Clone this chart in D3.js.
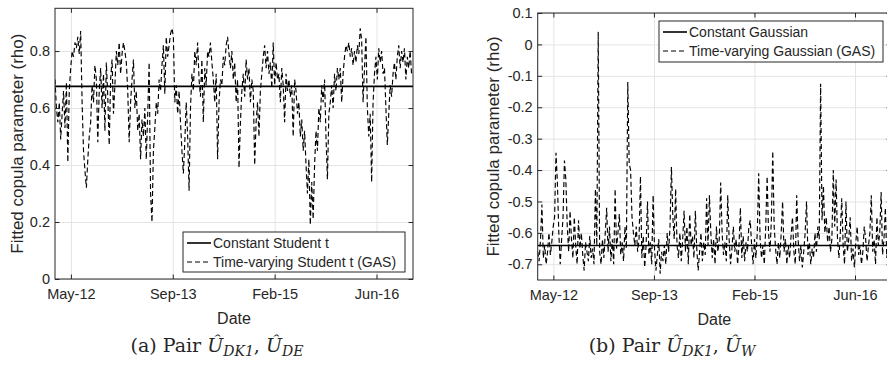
<!DOCTYPE html>
<html>
<head>
<meta charset="utf-8">
<script src="https://cdn.jsdelivr.net/npm/d3@7"></script>
<style>
  body { margin: 0; background: #fff; }
  svg { display: block; }
  text { font-family: "Liberation Sans", Arial, sans-serif; fill: #262626; }
</style>
</head>
<body>
<svg id="chart" width="887" height="367"></svg>
<script>
// weekly observations starting 27 Feb 2012
const startDate = Date.UTC(2012, 1, 27);
const endDate = Date.UTC(2016, 11, 19);

const xTickDates = [Date.UTC(2012, 4, 15), Date.UTC(2013, 8, 27), Date.UTC(2015, 1, 9), Date.UTC(2016, 5, 23)];
const xTickLabels = ["May-12", "Sep-13", "Feb-15", "Jun-16"];

const yTicksA = [0, 0.2, 0.4, 0.6, 0.8];
const yTickLabelsA = ["0", "0.2", "0.4", "0.6", "0.8"];
const yTicksB = [-0.7, -0.6, -0.5, -0.4, -0.3, -0.2, -0.1, 0, 0.1];
const yTickLabelsB = ["-0.7", "-0.6", "-0.5", "-0.4", "-0.3", "-0.2", "-0.1", "0", "0.1"];

const seriesNamesA = ["Constant Student t", "Time-varying Student t (GAS)"];
const seriesNamesB = ["Constant Gaussian", "Time-varying Gaussian (GAS)"];

const constStudent = 0.676;
const constGauss = -0.64;

const rhoStudent = [
  0.70, 0.60, 0.55, 0.62, 0.49, 0.58, 0.66, 0.53, 0.69, 0.41,
  0.66, 0.74, 0.80, 0.78, 0.83, 0.81, 0.85, 0.79, 0.87, 0.62,
  0.45, 0.38, 0.32, 0.42, 0.50, 0.55, 0.68, 0.62, 0.75, 0.70,
  0.48, 0.66, 0.74, 0.60, 0.72, 0.52, 0.76, 0.64, 0.47, 0.70,
  0.77, 0.58, 0.68, 0.80, 0.75, 0.83, 0.72, 0.79, 0.83, 0.80,
  0.76, 0.66, 0.48, 0.62, 0.70, 0.77, 0.60, 0.66, 0.52, 0.58,
  0.42, 0.56, 0.50, 0.60, 0.42, 0.58, 0.76, 0.30, 0.20, 0.45,
  0.53, 0.62, 0.58, 0.70, 0.66, 0.75, 0.82, 0.65, 0.85, 0.78,
  0.82, 0.86, 0.88, 0.85, 0.62, 0.68, 0.58, 0.66, 0.55, 0.45,
  0.37, 0.48, 0.62, 0.50, 0.31, 0.60, 0.72, 0.66, 0.80, 0.75,
  0.83, 0.70, 0.64, 0.77, 0.55, 0.74, 0.68, 0.80, 0.78, 0.83,
  0.76, 0.70, 0.62, 0.72, 0.42, 0.62, 0.70, 0.68, 0.78, 0.75,
  0.82, 0.85, 0.79, 0.74, 0.80, 0.70, 0.76, 0.62, 0.70, 0.39,
  0.55, 0.66, 0.72, 0.64, 0.77, 0.70, 0.74, 0.62, 0.70, 0.66,
  0.40, 0.55, 0.62, 0.50, 0.66, 0.72, 0.78, 0.82, 0.74, 0.80,
  0.72, 0.76, 0.67, 0.83, 0.68, 0.76, 0.70, 0.72, 0.62, 0.74,
  0.68, 0.55, 0.72, 0.66, 0.70, 0.64, 0.68, 0.50, 0.70, 0.66,
  0.58, 0.62, 0.50, 0.56, 0.45, 0.52, 0.40, 0.30, 0.42, 0.19,
  0.34, 0.21, 0.40, 0.52, 0.45, 0.60, 0.55, 0.68, 0.62, 0.70,
  0.50, 0.35, 0.58, 0.62, 0.68, 0.60, 0.72, 0.66, 0.74, 0.70,
  0.74, 0.62, 0.72, 0.78, 0.82, 0.80, 0.83, 0.78, 0.81, 0.75,
  0.80, 0.76, 0.82, 0.79, 0.88, 0.84, 0.62, 0.74, 0.85, 0.60,
  0.50, 0.58, 0.34, 0.62, 0.72, 0.78, 0.70, 0.81, 0.76, 0.80,
  0.72, 0.74, 0.60, 0.47, 0.58, 0.68, 0.64, 0.72, 0.76, 0.70,
  0.78, 0.82, 0.74, 0.80, 0.76, 0.81, 0.70, 0.78, 0.74, 0.80, 0.72
];

const rhoGauss = [
  -0.66, -0.69, -0.62, -0.51, -0.68, -0.64, -0.70, -0.66, -0.60, -0.67,
  -0.63, -0.58, -0.55, -0.345, -0.44, -0.60, -0.70, -0.62, -0.55, -0.37,
  -0.43, -0.58, -0.66, -0.53, -0.62, -0.68, -0.55, -0.64, -0.70, -0.56,
  -0.65, -0.60, -0.67, -0.72, -0.63, -0.66, -0.69, -0.61, -0.68, -0.65,
  -0.70, -0.46, -0.64, 0.04, -0.66, -0.70, -0.62, -0.68, -0.60, -0.52,
  -0.66, -0.58, -0.69, -0.62, -0.70, -0.46, -0.65, -0.60, -0.54, -0.67,
  -0.63, -0.69, -0.58, -0.65, -0.12, -0.38, -0.40, -0.55, -0.60, -0.64,
  -0.58, -0.66, -0.62, -0.42, -0.68, -0.61, -0.71, -0.64, -0.50, -0.67,
  -0.63, -0.70, -0.48, -0.65, -0.72, -0.67, -0.62, -0.73, -0.66, -0.69,
  -0.64, -0.70, -0.60, -0.66, -0.58, -0.39, -0.55, -0.62, -0.46, -0.64,
  -0.68, -0.60, -0.69, -0.62, -0.53, -0.66, -0.58, -0.70, -0.54, -0.64,
  -0.61, -0.68, -0.53, -0.65, -0.72, -0.66, -0.60, -0.69, -0.63, -0.67,
  -0.49, -0.64, -0.48, -0.60, -0.68, -0.62, -0.70, -0.58, -0.66, -0.62,
  -0.44, -0.60, -0.67, -0.63, -0.69, -0.48, -0.62, -0.70, -0.65, -0.58,
  -0.66, -0.62, -0.70, -0.64, -0.52, -0.68, -0.61, -0.69, -0.63, -0.66,
  -0.58, -0.56, -0.64, -0.70, -0.62, -0.68, -0.60, -0.41, -0.62, -0.68,
  -0.64, -0.70, -0.58, -0.42, -0.60, -0.66, -0.56, -0.34, -0.58, -0.65,
  -0.70, -0.63, -0.68, -0.60, -0.50, -0.66, -0.62, -0.70, -0.64, -0.68,
  -0.61, -0.55, -0.66, -0.70, -0.48, -0.62, -0.69, -0.64, -0.71, -0.66,
  -0.60, -0.50, -0.67, -0.63, -0.70, -0.65, -0.68, -0.60, -0.66, -0.58,
  -0.62, -0.125, -0.56, -0.45, -0.60, -0.55, -0.63, -0.58, -0.66, -0.62,
  -0.40, -0.58, -0.43, -0.62, -0.68, -0.60, -0.49, -0.64, -0.70, -0.50,
  -0.66, -0.62, -0.55, -0.69, -0.65, -0.71, -0.63, -0.58, -0.67, -0.64,
  -0.70, -0.66, -0.58, -0.62, -0.69, -0.64, -0.60, -0.48, -0.66, -0.62,
  -0.70, -0.55, -0.64, -0.60, -0.47, -0.67, -0.62, -0.52, -0.68, -0.64, -0.60
];

const svg = d3.select("#chart");
const axisColor = "#262626";
const gridColor = "#e4e4e4";

function drawPanel(p) {
  const x = d3.scaleUtc().domain([startDate, endDate]).range([p.left, p.right]);
  const y = d3.scaleLinear().domain(p.yDomain).range([p.bottom, p.top]);
  const h = p.bottom - p.top;
  const g = svg.append("g");

  g.append("clipPath").attr("id", p.id + "-clip")
    .append("rect").attr("x", p.left).attr("y", p.top)
    .attr("width", p.right - p.left).attr("height", h);

  // grid
  const gx = g.append("g").attr("transform", `translate(0,${p.bottom})`)
    .call(d3.axisBottom(x).tickValues(xTickDates).tickSize(-h).tickFormat(""));
  const gy = g.append("g").attr("transform", `translate(${p.left},0)`)
    .call(d3.axisLeft(y).tickValues(p.yTicks).tickSize(-(p.right - p.left)).tickFormat(""));
  [gx, gy].forEach(a => {
    a.select(".domain").remove();
    a.selectAll("line").attr("stroke", gridColor);
  });

  const pts = p.values.map((v, i) => ({ d: startDate + i * 7 * 864e5, v }));
  const line = d3.line().x(d => x(d.d)).y(d => y(d.v));

  const plot = g.append("g").attr("clip-path", `url(#${p.id}-clip)`);
  plot.append("path").datum(pts)
    .attr("d", line).attr("fill", "none")
    .attr("stroke", "#000").attr("stroke-width", 1.15)
    .attr("stroke-dasharray", "5,3");
  plot.append("line")
    .attr("x1", p.left).attr("x2", p.right)
    .attr("y1", y(p.constant)).attr("y2", y(p.constant))
    .attr("stroke", "#000").attr("stroke-width", 1.6);

  // box
  g.append("rect").attr("x", p.left).attr("y", p.top)
    .attr("width", p.right - p.left).attr("height", h)
    .attr("fill", "none").attr("stroke", axisColor).attr("stroke-width", 1);

  const fs = "14.5px";
  const ax = g.append("g").attr("transform", `translate(0,${p.bottom})`)
    .call(d3.axisBottom(x).tickValues(xTickDates).tickSize(-4.5).tickPadding(10)
      .tickFormat((d, i) => xTickLabels[i]));
  const axTop = g.append("g").attr("transform", `translate(0,${p.top})`)
    .call(d3.axisTop(x).tickValues(xTickDates).tickSize(-4.5).tickFormat(""));
  const ay = g.append("g").attr("transform", `translate(${p.left},0)`)
    .call(d3.axisLeft(y).tickValues(p.yTicks).tickSize(-4.5).tickPadding(5)
      .tickFormat((d, i) => p.yTickLabels[i]));
  const ayR = g.append("g").attr("transform", `translate(${p.right},0)`)
    .call(d3.axisRight(y).tickValues(p.yTicks).tickSize(-4.5).tickFormat(""));
  [ax, axTop, ay, ayR].forEach(a => {
    a.select(".domain").remove();
    a.selectAll("line").attr("stroke", axisColor);
    a.attr("font-family", null).attr("font-size", null);
    a.selectAll("text").attr("fill", axisColor).style("font-size", fs);
  });

  // axis titles
  g.append("text").attr("x", (p.left + p.right) / 2).attr("y", p.bottom + 45)
    .attr("text-anchor", "middle").style("font-size", "16px").text("Date");
  g.append("text")
    .attr("transform", `translate(${p.ylabelX},${(p.top + p.bottom) / 2}) rotate(-90)`)
    .attr("text-anchor", "middle").attr("dy", "0.35em")
    .style("font-size", "17px").text("Fitted copula parameter (rho)");

  // legend
  const L = p.legend;
  const lg = g.append("g").attr("transform", `translate(${L.x},${L.y})`);
  lg.append("rect").attr("width", L.w).attr("height", L.h)
    .attr("fill", "#fff").attr("stroke", axisColor).attr("stroke-width", 1);
  p.names.forEach((name, i) => {
    const cy = 11 + i * 19;
    lg.append("line").attr("x1", 4).attr("x2", 28).attr("y1", cy).attr("y2", cy)
      .attr("stroke", "#000").attr("stroke-width", i === 0 ? 1.6 : 1)
      .attr("stroke-dasharray", i === 0 ? null : "5,3");
    lg.append("text").attr("x", 30).attr("y", cy).attr("dy", "0.35em")
      .style("font-size", "14px").text(name);
  });

  // caption
  const cap = svg.append("text").attr("x", p.captionX).attr("y", 352)
    .attr("text-anchor", "middle")
    .style("font-family", "'DejaVu Serif', 'Liberation Serif', serif")
    .style("font-size", "19px").attr("fill", "#111");
  cap.append("tspan").text(p.captionTag + " Pair ");
  cap.append("tspan").style("font-style", "italic").text("Û");
  cap.append("tspan").style("font-style", "italic").style("font-size", "14px").attr("dy", 4).text("DK1");
  cap.append("tspan").attr("dy", -4).text(", ");
  cap.append("tspan").style("font-style", "italic").text("Û");
  cap.append("tspan").style("font-style", "italic").style("font-size", "14px").attr("dy", 4).text(p.captionSub);
}

drawPanel({
  id: "a", left: 55, right: 413, top: 8.3, bottom: 279,
  yDomain: [0, 0.95], yTicks: yTicksA, yTickLabels: yTickLabelsA,
  values: rhoStudent, constant: constStudent, names: seriesNamesA,
  ylabelX: 17,
  legend: { x: 183, y: 232, w: 222, h: 40 },
  captionX: 217, captionTag: "(a)", captionSub: "DE"
});

drawPanel({
  id: "b", left: 537.7, right: 891, top: 13, bottom: 280,
  yDomain: [-0.75, 0.1], yTicks: yTicksB, yTickLabels: yTickLabelsB,
  values: rhoGauss, constant: constGauss, names: seriesNamesB,
  ylabelX: 493,
  legend: { x: 659, y: 21, w: 224, h: 41 },
  captionX: 672, captionTag: "(b)", captionSub: "W"
});
</script>
</body>
</html>
